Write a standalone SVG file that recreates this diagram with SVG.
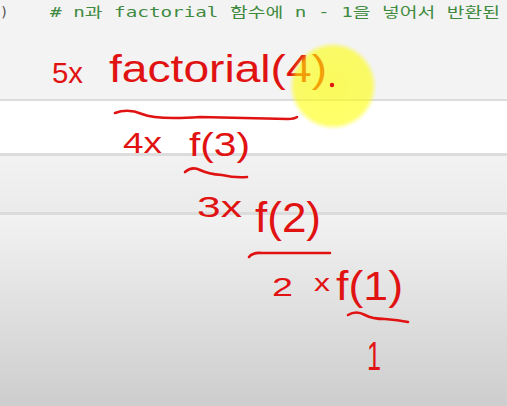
<svg xmlns="http://www.w3.org/2000/svg" width="507" height="406" viewBox="0 0 507 406">
<style>
.hw{font-family:"Liberation Sans","DejaVu Sans",sans-serif;fill:#e01212}
.st{fill:none;stroke:#e01212;stroke-width:2.6;stroke-linecap:round;stroke-linejoin:round}
.sep{fill:#dcdcdc}
</style>
<defs>
<linearGradient id="g1" x1="0" y1="0" x2="0" y2="1"><stop offset="0" stop-color="#f2f2f2"/><stop offset="1" stop-color="#ebebeb"/></linearGradient>
<linearGradient id="g2" x1="0" y1="0" x2="0" y2="1"><stop offset="0" stop-color="#f2f2f2"/><stop offset="1" stop-color="#cdcdcd"/></linearGradient>
<radialGradient id="hl" cx="0.5" cy="0.5" r="0.5"><stop offset="0" stop-color="#ffff00" stop-opacity="0.62"/><stop offset="0.86" stop-color="#ffff00" stop-opacity="0.58"/><stop offset="1" stop-color="#ffff00" stop-opacity="0"/></radialGradient>
</defs>
<g id="background">
<rect x="0" y="0" width="507" height="99" fill="#f3f3f3"/>
<rect x="0" y="99" width="507" height="2" class="sep"/>
<rect x="0" y="101" width="507" height="52" fill="#ffffff"/>
<rect x="0" y="153" width="507" height="3" class="sep"/>
<rect x="0" y="156" width="507" height="56" fill="url(#g1)"/>
<rect x="0" y="212" width="507" height="3" class="sep"/>
<rect x="0" y="215" width="507" height="191" fill="url(#g2)"/>
</g>
<g id="code">
<text x="0" y="17" font-family="'DejaVu Sans Mono',monospace" font-size="14" fill="#555">)</text>
<text x="50" y="17" font-family="'DejaVu Sans Mono','Noto Sans CJK KR',monospace" font-size="14" fill="#408a40" textLength="450" lengthAdjust="spacingAndGlyphs">#  n과 factorial 함수에 n - 1을 넣어서 반환된</text>
</g>
<g id="line1">
<text class="hw" x="52" y="83" font-size="30" textLength="31" lengthAdjust="spacingAndGlyphs">5x</text>
<text class="hw" x="109" y="82" font-size="38" textLength="218" lengthAdjust="spacingAndGlyphs">factorial(4)</text>
</g>
<g id="connectors">
<path class="st" d="M115,113 Q128,108 142,114 T200,117 L288,119 Q294,119 297,117"/>
<path class="st" d="M185,172 Q192,166 200,170 T222,175 Q235,178 247,177"/>
<path class="st" d="M249,257 Q253,252 262,253 L330,253"/>
<path class="st" d="M348,315 Q356,310 365,315 Q372,319 385,319 Q398,320 408,322"/>
</g>
<g id="line2">
<text class="hw" x="123" y="153" font-size="30" textLength="39" lengthAdjust="spacingAndGlyphs">4x</text>
<text class="hw" x="189" y="156" font-size="34" textLength="61" lengthAdjust="spacingAndGlyphs">f(3)</text>
</g>
<g id="line3">
<text class="hw" x="197" y="217" font-size="30" textLength="45" lengthAdjust="spacingAndGlyphs">3x</text>
<text class="hw" x="255" y="232" font-size="42" textLength="66" lengthAdjust="spacingAndGlyphs">f(2)</text>
</g>
<g id="line4">
<text class="hw" x="272" y="296" font-size="26" textLength="21" lengthAdjust="spacingAndGlyphs">2</text>
<text class="hw" x="314" y="291" font-size="24" textLength="16" lengthAdjust="spacingAndGlyphs">x</text>
<text class="hw" x="336" y="300" font-size="40" textLength="67" lengthAdjust="spacingAndGlyphs">f(1)</text>
</g>
<g id="result">
<text class="hw" x="367" y="370" font-size="40" textLength="14" lengthAdjust="spacingAndGlyphs">1</text>
</g>
<g id="pointer">
<circle cx="333" cy="86" r="44" fill="url(#hl)"/>
<circle cx="332" cy="85" r="2.2" fill="#e01212"/>
</g>
</svg>
